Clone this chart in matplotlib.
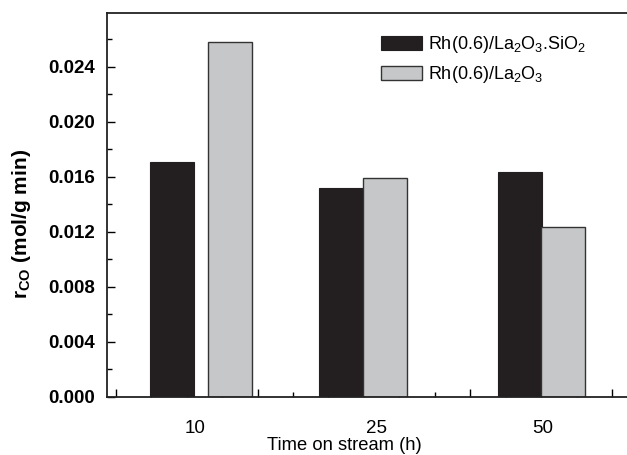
import numpy as np
import matplotlib
matplotlib.use("Agg")
import matplotlib.pyplot as plt
from matplotlib.ticker import MultipleLocator
import matplotlib.transforms as mtransforms

plt.rcParams['font.family'] = ['Liberation Sans', 'DejaVu Sans']
plt.rcParams['mathtext.fontset'] = 'custom'
plt.rcParams['mathtext.rm'] = 'Liberation Sans'
plt.rcParams['mathtext.bf'] = 'Liberation Sans:bold'
plt.rcParams['mathtext.default'] = 'regular'

# data
times = ['10', '25', '50']
rate_sio2 = [0.01707, 0.01516, 0.01636]   # Rh(0.6)/La2O3.SiO2
rate_la2o3 = [0.0258, 0.01588, 0.01234]   # Rh(0.6)/La2O3
series_names = [r'Rh(0.6)/La$_2$O$_3$.SiO$_2$', r'Rh(0.6)/La$_2$O$_3$']

# layout (x in tick units)
pos_sio2 = [1.59, 6.36, 11.39]
pos_la2o3 = [3.22, 7.59, 12.62]
label_pos = [2.23, 7.34, 12.05]
bar_w = 1.24

black = '#231f20'
grey = '#c6c7c8'

fig = plt.figure(figsize=(6.27, 4.55), dpi=100)
ax = fig.add_axes([0.1711, 0.1281, 1 - 0.1711, 0.8426])

ax.bar(pos_sio2, rate_sio2, width=bar_w, color=black, edgecolor=black,
       linewidth=0.8, label=series_names[0], zorder=2)
ax.bar(pos_la2o3, rate_la2o3, width=bar_w, color=grey, edgecolor='#333333',
       linewidth=1.0, label=series_names[1], zorder=2)

ax.set_xlim(-0.24, 14.42)
ax.set_ylim(0, 0.02788)

ax.spines['right'].set_visible(False)
for s in ['left', 'top', 'bottom']:
    ax.spines[s].set_linewidth(1.3)
    ax.spines[s].set_color('#222222')

yt = np.arange(0, 0.0241, 0.004)
ax.set_yticks(yt)
ax.yaxis.set_minor_locator(MultipleLocator(0.002))
ax.set_yticklabels([f'{v:.3f}' for v in yt], fontweight='bold', fontsize=13.5)
ax.tick_params(axis='y', which='major', direction='in', length=6, width=1.0, pad=9)
ax.tick_params(axis='y', which='minor', direction='in', length=3.5, width=1.0)

ax.set_xticks(np.arange(0, 15, 2))
ax.set_xticks(np.arange(1, 15, 2), minor=True)
ax.set_xticklabels([])
ax.tick_params(axis='x', which='major', direction='in', length=6, width=1.0)
ax.tick_params(axis='x', which='minor', direction='in', length=3.5, width=1.0)

trans = mtransforms.blended_transform_factory(ax.transData, ax.transAxes)
for x, lab in zip(label_pos, times):
    ax.text(x, -0.082, lab, transform=trans, ha='center', va='center', fontsize=13.5)

ax.text(6.46, -0.128, 'Time on stream (h)', transform=trans, ha='center',
        va='center', fontsize=13.2)

ax.set_ylabel(r'r$_{CO}$ (mol/g min)', fontweight='bold', fontsize=15)
ax.yaxis.set_label_coords(-0.142, 0.45)

ax.legend(loc='upper left', bbox_to_anchor=(0.512, 0.965), frameon=False,
          fontsize=13, handlelength=2.3, handleheight=0.85, handletextpad=0.3,
          labelspacing=0.5, borderaxespad=0)

fig.savefig('out.png', dpi=100)
